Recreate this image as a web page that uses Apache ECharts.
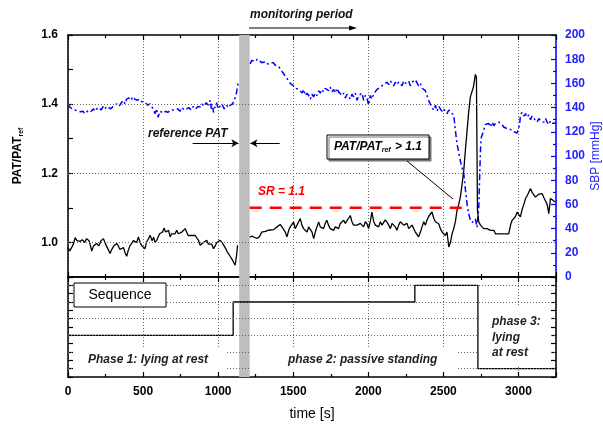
<!DOCTYPE html>
<html lang="en">
<head>
<meta charset="UTF-8">
<title>PAT / SBP</title>
<style>
  html, body { margin: 0; padding: 0; background: #fff; }
  #chart { width: 603px; height: 424px; }
</style>
</head>
<body>
<div id="chart"></div>
<script src="https://cdn.jsdelivr.net/npm/echarts@6/dist/echarts.min.js"></script>
<script>
// PAT/PATref (left axis), [time s, ratio]; '-' = gap at the reference bar
var patData = [
  [0,0.985],[12,0.975],[24,0.972],[36,0.995],[47,1.014],[60,1.005],[70,1.0],[80,1.003],[95,1.008],[110,1.0],
  [124,1.011],[140,1.005],[150,0.99],[158,0.975],[170,0.99],[180,0.985],[191,0.997],[205,0.99],[220,1.005],[236,1.011],
  [250,0.995],[262,0.985],[270,0.99],[280,0.968],[292,0.98],[305,0.99],[314,0.985],[324,0.997],[335,0.99],[345,0.98],
  [358,0.977],[370,0.985],[380,0.97],[391,0.96],[400,0.975],[412,0.99],[424,0.997],[435,1.005],[445,1.01],[458,1.0],
  [469,1.016],[480,1.0],[492,0.99],[503,0.985],[513,0.982],[522,1.0],[535,1.01],[547,1.021],[560,1.005],[570,1.015],
  [580,1.0],[591,1.006],[600,1.01],[610,1.025],[622,1.02],[630,1.03],[640,1.042],[650,1.03],[660,1.025],[670,1.035],
  [680,1.016],[690,1.025],[702,1.03],[713,1.025],[724,1.035],[735,1.025],[745,1.02],[758,1.03],[770,1.025],[780,1.04],
  [790,1.03],[800,1.02],[813,1.016],[825,1.02],[835,1.018],[847,1.02],[858,1.016],[870,1.005],[880,0.992],[890,0.995],
  [902,1.0],[913,1.005],[924,1.006],[935,0.995],[947,0.99],[958,0.995],[969,0.982],[980,0.99],[991,1.0],[1002,1.0],
  [1013,1.006],[1025,1.0],[1036,0.995],[1047,0.985],[1058,0.975],[1069,0.972],[1080,0.96],[1090,0.955],[1100,0.945],
  [1113,0.934],[1122,0.96],[1129,0.992],
  [1175,'-'],
  [1210,1.015],[1225,1.018],[1240,1.015],[1255,1.012],[1269,1.014],[1280,1.02],[1290,1.03],[1302,1.035],[1315,1.032],
  [1330,1.035],[1345,1.036],[1358,1.035],[1369,1.037],[1380,1.04],[1392,1.045],[1403,1.05],[1413,1.052],[1425,1.045],
  [1436,1.04],[1447,1.03],[1458,1.016],[1470,1.035],[1480,1.045],[1490,1.05],[1502,1.059],[1513,1.04],[1525,1.05],
  [1536,1.045],[1547,1.069],[1558,1.05],[1569,1.04],[1580,1.035],[1592,1.03],[1603,1.045],[1614,1.04],[1625,1.03],
  [1636,1.011],[1647,1.03],[1658,1.045],[1669,1.059],[1680,1.045],[1691,1.05],[1702,1.04],[1713,1.055],[1724,1.064],
  [1735,1.05],[1746,1.04],[1758,1.045],[1769,1.035],[1780,1.045],[1791,1.05],[1802,1.04],[1813,1.055],[1825,1.05],
  [1836,1.064],[1847,1.055],[1858,1.06],[1869,1.07],[1880,1.078],[1891,1.06],[1902,1.05],[1913,1.055],[1925,1.05],
  [1936,1.045],[1947,1.055],[1958,1.05],[1969,1.045],[1980,1.06],[1991,1.054],[2002,1.04],[2013,1.06],[2024,1.088],
  [2036,1.06],[2047,1.05],[2058,1.045],[2069,1.045],[2080,1.06],[2091,1.05],[2102,1.055],[2113,1.065],[2124,1.059],
  [2136,1.05],[2147,1.04],[2158,1.055],[2169,1.06],[2180,1.045],[2191,1.035],[2202,1.05],[2213,1.06],[2224,1.064],
  [2236,1.05],[2247,1.045],[2258,1.055],[2269,1.04],[2280,1.035],[2291,1.05],[2302,1.045],[2313,1.03],[2324,1.025],
  [2335,1.016],[2347,1.03],[2358,1.045],[2369,1.06],[2380,1.05],[2391,1.065],[2402,1.075],[2413,1.08],[2424,1.088],
  [2436,1.07],[2447,1.06],[2458,1.065],[2469,1.054],[2480,1.04],[2491,1.03],[2502,1.025],[2513,1.02],[2524,1.03],
  [2536,0.987],[2547,1.0],[2558,1.025],[2569,1.04],[2580,1.06],[2591,1.093],[2602,1.11],[2613,1.131],[2625,1.17],
  [2636,1.209],[2647,1.27],[2658,1.324],[2669,1.38],[2680,1.421],[2688,1.42],[2700,1.45],[2713,1.486],[2720,1.478],
  [2727,1.093],[2735,1.06],[2747,1.05],[2758,1.045],[2769,1.04],[2780,1.045],[2791,1.04],[2802,1.035],[2813,1.035],
  [2825,1.03],[2836,1.035],[2847,1.025],[2858,1.03],[2869,1.025],[2880,1.03],[2891,1.025],[2902,1.021],[2913,1.025],
  [2924,1.03],[2935,1.025],[2942,1.03],[2950,1.055],[2958,1.064],[2969,1.06],[2980,1.075],[2991,1.088],[3002,1.08],
  [3013,1.074],[3024,1.095],[3036,1.11],[3047,1.127],[3058,1.135],[3069,1.14],[3080,1.156],[3091,1.145],[3102,1.14],
  [3113,1.131],[3124,1.135],[3136,1.14],[3147,1.135],[3158,1.141],[3169,1.13],[3180,1.12],[3191,1.11],[3202,1.083],
  [3207,1.08],[3213,1.127],[3225,1.125],[3236,1.12],[3247,1.117]
];

// SBP in mmHg (right axis)
var sbpData = [
  [0,142.7],[15,140],[30,139],[45,138],[58,138],[70,137],[85,136.5],[100,137],[112,135],[125,136],
  [140,138],[155,137],[170,139],[180,137],[191,139],[205,140],[220,138],[235,141],[245,139],[258,141],
  [270,142],[285,139],[300,141],[313,140],[325,143],[340,141],[355,144],[369,146],[380,143],[390,147],
  [405,148],[420,146],[431,149],[445,147],[460,146],[475,147],[490,145],[502,145.5],[515,144],[530,142],
  [545,143],[558,141],[569,140.5],[580,135],[590,139],[600,132],[612,137],[625,136],[636,135.5],[650,137],
  [665,136],[680,138],[702,138],[715,137],[730,139],[745,137],[760,140],[775,138],[791,139],[805,140],
  [820,138],[835,141],[850,139],[865,141],[880,140.5],[893,143],[905,141],[920,144],[935,142],[947,146],
  [955,139],[962,143],[969,136],[980,141],[990,144],[1000,139],[1013,140.5],[1025,143],[1040,139],[1055,142],
  [1068,140],[1080,142],[1095,143],[1105,145],[1113,146],[1122,152],[1129,158],[1135,161],
  [1175,'-'],
  [1213,176],[1224,179],[1236,180],[1248,178],[1260,180],[1275,179],[1290,177],[1302,177],[1315,178],[1330,176],
  [1345,177],[1358,178],[1369,177],[1380,175],[1392,176],[1403,174],[1413,172],[1425,170],[1436,168],[1447,166],
  [1458,165],[1470,162],[1480,160],[1491,159],[1502,158],[1513,156],[1525,157],[1536,155],[1547,154],[1560,152],
  [1570,155],[1580,150],[1592,152],[1603,150],[1614,147],[1625,151],[1636,149],[1647,152],[1658,150],[1669,154],
  [1680,152],[1691,155],[1702,153],[1713,156],[1724,156],[1735,154],[1746,157],[1758,153],[1769,155],[1780,152],
  [1791,156],[1802,153],[1813,154],[1825,150],[1836,152],[1847,148],[1858,151],[1869,150],[1880,147],[1891,151],
  [1902,149],[1913,152],[1925,146],[1936,150],[1947,149],[1958,152],[1969,146],[1980,150],[1991,148],[2002,142],
  [2013,150],[2024,147],[2036,151.5],[2047,153],[2058,155],[2069,154],[2080,157],[2091,156],[2102,159],[2113,158],
  [2124,161],[2136,159],[2147,162],[2158,160],[2169,158],[2180,161],[2191,159],[2202,161],[2213,160],[2224,158],
  [2236,162],[2247,160],[2258,159],[2269,162],[2280,158],[2291,161],[2302,160],[2313,163],[2324,164],[2335,158],
  [2347,160],[2358,156],[2369,157],[2380,154],[2391,150],[2402,146],[2413,145],[2424,140],[2436,138],[2447,142],
  [2458,137],[2469,141],[2480,139],[2491,137],[2502,139],[2513,140],[2524,135],[2536,138],[2547,136],[2558,137],
  [2569,134],[2580,121],[2591,110],[2602,103],[2613,96],[2625,90],[2636,85],[2647,72],[2658,60],[2669,52],
  [2680,47],[2691,45],[2702,44],[2713,48],[2724,41],[2730,50],[2735,55],[2741,80],[2747,105],[2752,115],
  [2760,118],[2770,122],[2780,126],[2791,125],[2802,127],[2813,124],[2825,128],[2836,125],[2847,127],[2858,126],
  [2869,128],[2880,128],[2891,126],[2902,124],[2913,125],[2924,122.6],[2935,123],[2947,122],[2958,121],[2969,120],
  [2980,121],[2991,119],[3002,118.5],[3008,126],[3013,134],[3024,136],[3036,133],[3047,135],[3058,132],[3069,134],
  [3080,130],[3091,133],[3102,131],[3113,132],[3124,128],[3136,131],[3147,129],[3158,130],[3169,128],[3180,131],
  [3191,128],[3202,126],[3213,129],[3225,127],[3236,128],[3250,127]
];

// sequence levels (step drawn at each change)
var seqData = [[0,2],[1100,4],[2310,5],[2730,0],[3250,0]];

var srLine = [[1210,1.1],[2640,1.1]];
var refBar = [1140, 1210];
var topGridY = [1.0, 1.2, 1.4];
var seqGridY = [0, 1, 2, 3, 4, 5];

var FONT = '"Liberation Sans", Arial, sans-serif';
var BLUE = '#0000ff';
function dot() { return { color: '#666', width: 1, type: [1, 2] }; }

function xAxisCfg(grid, pos, labels, split) {
  return {
    type: 'value', gridIndex: grid, position: pos,
    min: 0, max: 3250, interval: 500,
    axisLine: { show: true, onZero: false, lineStyle: { color: '#000', width: 1.5 } },
    axisTick: { show: true, inside: true, length: 5, lineStyle: { color: '#000', width: 1.2 } },
    minorTick: { show: true, splitNumber: 2, length: 3, lineStyle: { color: '#000', width: 1.2 } },
    splitLine: { show: split, lineStyle: dot() },
    axisLabel: labels ? {
      show: true, margin: 9, color: '#000', fontSize: 12, fontWeight: 'bold', fontFamily: FONT,
      formatter: function (v) { return v % 500 === 0 ? String(v) : ''; }
    } : { show: false }
  };
}

function seqYAxis(pos) {
  return {
    type: 'value', gridIndex: 1, position: pos,
    min: -0.5, max: 5.5, interval: 0.5,
    axisLine: { show: true, onZero: false, lineStyle: { color: '#000', width: 1.5 } },
    axisTick: { show: true, inside: true, length: 5, lineStyle: { color: '#000', width: 1.2 } },
    splitLine: { show: false },
    axisLabel: { show: false }
  };
}

var myChart = echarts.init(document.getElementById('chart'));

myChart.setOption({
  animation: false,
  backgroundColor: '#fff',
  grid: [
    { left: 68, right: 47, top: 35, height: 242 },
    { left: 68, right: 47, top: 277, height: 100 }
  ],
  xAxis: [
    xAxisCfg(0, 'bottom', false, true),
    xAxisCfg(0, 'top', false, false),
    Object.assign(xAxisCfg(1, 'bottom', true, true), {
      name: 'time [s]', nameLocation: 'middle', nameGap: 30,
      nameTextStyle: { color: '#000', fontSize: 14, fontFamily: FONT }
    }),
    xAxisCfg(1, 'top', false, false)
  ],
  yAxis: [
    {
      type: 'value', gridIndex: 0, position: 'left',
      min: 0.9, max: 1.6, interval: 0.1,
      axisLine: { show: true, onZero: false, lineStyle: { color: '#000', width: 1.5 } },
      axisTick: { show: true, inside: true, length: 5, lineStyle: { color: '#000', width: 1.2 } },
      splitLine: { show: false },
      axisLabel: {
        color: '#000', fontSize: 12, fontWeight: 'bold', fontFamily: FONT, margin: 10,
        formatter: function (v) { return Math.round(v * 10) % 2 === 0 ? v.toFixed(1) : ''; }
      }
    },
    {
      type: 'value', gridIndex: 0, position: 'right',
      min: 0, max: 200, interval: 20,
      axisLine: { show: true, onZero: false, lineStyle: { color: BLUE, width: 1.5 } },
      axisTick: { show: true, inside: true, length: 5, lineStyle: { color: BLUE, width: 1.2 } },
      minorTick: { show: true, splitNumber: 2, length: 3, lineStyle: { color: BLUE, width: 1.2 } },
      splitLine: { show: false },
      axisLabel: { color: '#2222ff', fontSize: 12, fontWeight: 'bold', fontFamily: FONT, margin: 9 }
    },
    seqYAxis('left'),
    seqYAxis('right')
  ],
  series: [
    {
      // dotted grid lines of the top panel
      type: 'line', xAxisIndex: 0, yAxisIndex: 0, data: [], z: 1, silent: true,
      markLine: {
        silent: true, symbol: 'none', label: { show: false },
        lineStyle: dot(),
        data: topGridY.map(function (v) { return { yAxis: v }; })
      }
    },
    {
      // grey reference bar and reference PAT arrows
      type: 'line', xAxisIndex: 0, yAxisIndex: 0, data: [], z: 6, silent: true,
      markArea: {
        silent: true, itemStyle: { color: '#bebebe' },
        data: [[{ xAxis: refBar[0] }, { xAxis: refBar[1] }]]
      },
      markLine: {
        silent: true, symbol: ['none', 'arrow'], symbolSize: [6, 7], label: { show: false },
        lineStyle: { color: '#000', width: 1, type: 'solid' },
        data: [
          [{ coord: [830, 1.287] }, { coord: [1135, 1.287] }],
          [{ coord: [1410, 1.287] }, { coord: [1215, 1.287] }]
        ]
      }
    },
    {
      name: 'SBP', type: 'line', xAxisIndex: 0, yAxisIndex: 1,
      data: sbpData, showSymbol: false, connectNulls: false, z: 3,
      lineStyle: { color: BLUE, width: 1.5, type: [6, 3, 2, 3] }
    },
    {
      name: 'PAT/PATref', type: 'line', xAxisIndex: 0, yAxisIndex: 0,
      data: patData, showSymbol: false, connectNulls: false, z: 4,
      lineStyle: { color: '#000', width: 1.3 }
    },
    {
      name: 'SR', type: 'line', xAxisIndex: 0, yAxisIndex: 0,
      data: srLine, showSymbol: false, z: 5,
      lineStyle: { color: '#ff0000', width: 2.5, type: [12, 8] }
    },
    {
      // bottom panel grid lines
      type: 'line', xAxisIndex: 2, yAxisIndex: 2, data: [], z: 1, silent: true,
      markLine: {
        silent: true, symbol: 'none', label: { show: false },
        lineStyle: dot(),
        data: seqGridY.map(function (v) { return { yAxis: v }; })
      }
    },
    {
      type: 'line', xAxisIndex: 2, yAxisIndex: 2, data: [], z: 6, silent: true,
      markArea: {
        silent: true, itemStyle: { color: '#bebebe' },
        data: [[{ xAxis: refBar[0] }, { xAxis: refBar[1] }]]
      }
    },
    {
      name: 'Sequence', type: 'line', xAxisIndex: 2, yAxisIndex: 2,
      data: seqData, step: 'end', showSymbol: false, z: 4,
      lineStyle: { color: '#000', width: 1.3 }
    }
  ],
  graphic: [
    // white patches behind the phase labels
    { type: 'rect', z: 50, shape: { x: 74, y: 347, width: 152, height: 25 }, style: { fill: '#fff' } },
    { type: 'rect', z: 50, shape: { x: 251, y: 347, width: 207, height: 25 }, style: { fill: '#fff' } },
    { type: 'rect', z: 50, shape: { x: 479, y: 306, width: 72, height: 59 }, style: { fill: '#fff' } },
    {
      type: 'rect', z: 60, shape: { x: 74, y: 283, width: 92, height: 24 },
      style: { fill: '#fff', stroke: '#000', lineWidth: 1 }
    },
    {
      type: 'text', z: 61, x: 120, y: 295,
      style: { text: 'Sequence', fill: '#000', font: '14px ' + FONT, textAlign: 'center', textVerticalAlign: 'middle' }
    },
    {
      type: 'text', z: 61, x: 88, y: 360,
      style: { text: 'Phase 1: lying at rest', fill: '#222', font: 'italic bold 12px ' + FONT, textVerticalAlign: 'middle' }
    },
    {
      type: 'text', z: 61, x: 288, y: 360,
      style: { text: 'phase 2: passive standing', fill: '#222', font: 'italic bold 12px ' + FONT, textVerticalAlign: 'middle' }
    },
    {
      type: 'text', z: 61, x: 492, y: 314,
      style: { text: 'phase 3:\nlying\nat rest', fill: '#222', font: 'italic bold 12px ' + FONT, lineHeight: 15.5 }
    },
    // top annotations
    {
      type: 'text', z: 61, x: 250, y: 15,
      style: { text: 'monitoring period', fill: '#111', font: 'italic bold 12px ' + FONT, textVerticalAlign: 'middle' }
    },
    { type: 'line', z: 61, shape: { x1: 249, y1: 28, x2: 352, y2: 28 }, style: { stroke: '#000', lineWidth: 1 } },
    { type: 'polygon', z: 61, shape: { points: [[357, 28], [349, 25.5], [349, 30.5]] }, style: { fill: '#000' } },
    {
      type: 'text', z: 61, x: 148, y: 134,
      style: { text: 'reference PAT', fill: '#111', font: 'italic bold 12px ' + FONT, textVerticalAlign: 'middle' }
    },
    {
      type: 'text', z: 61, x: 258, y: 192,
      style: { text: 'SR = 1.1', fill: '#ff0000', font: 'italic bold 12px ' + FONT, textVerticalAlign: 'middle' }
    },
    { type: 'line', z: 61, shape: { x1: 407, y1: 161, x2: 453, y2: 199 }, style: { stroke: '#000', lineWidth: 1 } },
    {
      type: 'rect', z: 60, shape: { x: 327, y: 135, width: 102, height: 24 },
      style: { fill: '#fff', stroke: '#000', lineWidth: 1, shadowColor: '#777', shadowOffsetX: 2, shadowOffsetY: 2 }
    },
    {
      type: 'text', z: 61, x: 378, y: 147,
      style: {
        text: '{a|PAT/PAT}{s|ref}{a| > 1.1}', textAlign: 'center', textVerticalAlign: 'middle',
        rich: {
          a: { fontSize: 12, fontWeight: 'bold', fontStyle: 'italic', fontFamily: FONT, fill: '#000' },
          s: { fontSize: 7, fontWeight: 'bold', fontStyle: 'italic', fontFamily: FONT, fill: '#000', padding: [7, 1, 0, 0] }
        }
      }
    },
    // axis titles
    {
      type: 'text', z: 61, x: 18, y: 156, rotation: Math.PI / 2,
      style: {
        text: '{a|PAT/PAT}{s|ref}', textAlign: 'center', textVerticalAlign: 'middle',
        rich: {
          a: { fontSize: 12, fontWeight: 'bold', fontFamily: FONT, fill: '#000' },
          s: { fontSize: 7, fontWeight: 'bold', fontFamily: FONT, fill: '#000', padding: [7, 0, 0, 0] }
        }
      }
    },
    {
      type: 'text', z: 61, x: 596, y: 156, rotation: Math.PI / 2,
      style: { text: 'SBP [mmHg]', fill: '#2222ff', font: '12px ' + FONT, textAlign: 'center', textVerticalAlign: 'middle' }
    }
  ]
});
</script>
</body>
</html>
